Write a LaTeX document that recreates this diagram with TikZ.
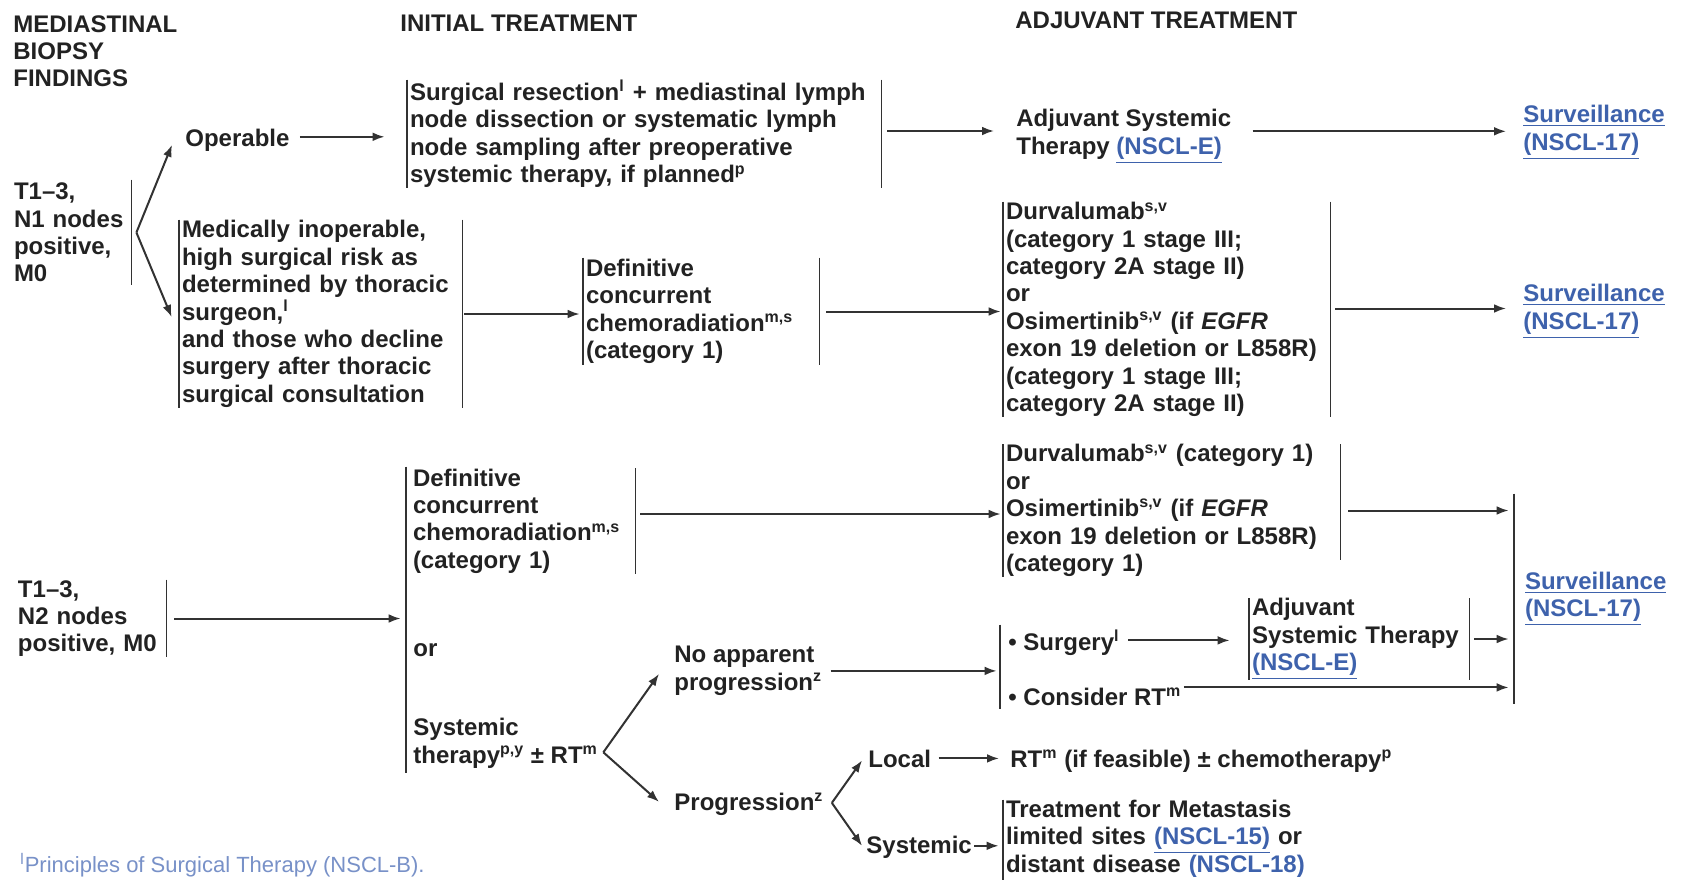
\documentclass[tikz,border=0pt]{standalone}
\usepackage{fontspec}
\setmainfont{Liberation Sans}
\usetikzlibrary{arrows.meta,calc}
\definecolor{txt}{RGB}{34,34,34}
\definecolor{linec}{RGB}{50,50,50}
\definecolor{lnkc}{RGB}{62,98,172}
\definecolor{fnc}{RGB}{120,145,200}
\newcommand\spx[1]{\textsuperscript{#1}}
\newcommand\lnk[1]{\textcolor{lnkc}{\underline{#1}}}
\tikzset{
  vbar/.style={draw=linec, line width=0.9pt},
  brk/.style={align=left, inner xsep=1.5pt, inner ysep=0pt,
    append after command={(\tikzlastnode.north west) edge[vbar] (\tikzlastnode.south west)
      (\tikzlastnode.north east) edge[vbar] (\tikzlastnode.south east)}},
  lbrk/.style={align=left, inner xsep=1.5pt, inner ysep=0pt,
    append after command={(\tikzlastnode.north west) edge[vbar] (\tikzlastnode.south west)}},
  rbrk/.style={align=left, inner xsep=1.5pt, inner ysep=0pt,
    append after command={(\tikzlastnode.north east) edge[vbar] (\tikzlastnode.south east)}},
  plain/.style={align=left, anchor=north west},
  arr/.style={draw=linec, line width=1pt, -{Latex[length=6pt,width=4.4pt]}}
}
\begin{document}
\begin{tikzpicture}[x=0.5pt,y=-0.5pt,
  every node/.style={font=\fontsize{12pt}{13.7pt}\selectfont\bfseries, text=txt, inner sep=0pt}]
\useasboundingbox (0,0) rectangle (1684,879);
\fill[white] (0,0) rectangle (1684,879);

% headers
\node[plain] (h1) at (13,15) {MEDIASTINAL\\BIOPSY\\FINDINGS};
\node[anchor=base west] (h2) at (400,31) {INITIAL TREATMENT};
\node[anchor=base west] (h3) at (1015,28) {ADJUVANT TREATMENT};

% N1 row
\node[rbrk, text width=57pt, minimum height=52.5pt] (n1) at (71,232.5) {T1–3,\\N1 nodes\\positive,\\M0};
\node[anchor=base west] (oper) at (185,146) {Operable};
\node[brk, text width=234pt, minimum height=54pt] (surg) at (644,134)
  {Surgical resection\spx{l} + mediastinal lymph\\node dissection or systematic lymph\\node sampling after preoperative\\systemic therapy, if planned\spx{p}};
\node[plain] (adj1) at (1016,109) {Adjuvant Systemic\\Therapy \lnk{(NSCL-E)}};
\node[plain] (surv1) at (1523,105) {\lnk{Surveillance}\\\lnk{(NSCL-17)}};

\node[brk, text width=138.5pt, minimum height=94pt] (med) at (320.5,314)
  {Medically inoperable,\\high surgical risk as\\determined by thoracic\\surgeon,\spx{l}\\and those who decline\\surgery after thoracic\\surgical consultation};
\node[brk, text width=115pt, minimum height=53.5pt] (dcc1) at (701,311.5)
  {Definitive\\concurrent\\chemoradiation\spx{m,s}\\(category 1)};
\node[brk, text width=160.5pt, minimum height=107.5pt] (durv1) at (1166.5,309.5)
  {Durvalumab\spx{s,v}\\(category 1 stage III;\\category 2A stage II)\\or\\Osimertinib\spx{s,v} (if \textit{EGFR}\\exon 19 deletion or L858R)\\(category 1 stage III;\\category 2A stage II)};
\node[plain] (surv2) at (1523,284) {\lnk{Surveillance}\\\lnk{(NSCL-17)}};

% N2 row
\node[rbrk, text width=72.5pt, minimum height=38.5pt] (n2) at (90.5,618.5) {T1–3,\\N2 nodes\\positive, M0};
\node[lbrk, minimum height=153pt] (init2) at (409,620) {};
\node[rbrk, text width=109.5pt, minimum height=48pt] (dcc2) at (522.5,521)
  {Definitive\\concurrent\\chemoradiation\spx{m,s}\\(category 1)};
\node[anchor=base west] (or2) at (413,656) {or};
\node[plain] (sys2) at (413,718) {Systemic\\therapy\spx{p,y} ± RT\spx{m}};
\node[lbrk, text width=165.5pt, minimum height=64.5pt] (durv2) at (1171.5,510.5)
  {Durvalumab\spx{s,v} (category 1)\\or\\Osimertinib\spx{s,v} (if \textit{EGFR}\\exon 19 deletion or L858R)\\(category 1)};
\draw[vbar] (durv2.north east) -- ($(durv2.south east)+(0,-17)$);
\node[lbrk, inner xsep=5.5pt, text width=73pt, minimum height=105pt] (surv3) at (1598,599)
  {\lnk{Surveillance}\\\lnk{(NSCL-17)}};
\node[plain] (noprog) at (674,646) {No apparent\\progression\spx{z}};
\node[lbrk, minimum height=42pt] (sc) at (1003,667) {};
\node[anchor=base west] (surgery) at (1008,650) {• Surgery\spx{l}};
\node[anchor=base west] (cons) at (1008,705) {• Consider RT\spx{m}};
\node[brk, text width=107pt, minimum height=38pt] (adj2) at (1359,639)
  {Adjuvant\\Systemic Therapy\\\lnk{(NSCL-E)}};
\node[anchor=base west] (prog) at (674,810) {Progression\spx{z}};
\node[anchor=base west] (local) at (868,767) {Local};
\node[anchor=base west] (rtf) at (1010,767) {RT\spx{m} (if feasible) ± chemotherapy\spx{p}};
\node[anchor=base west] (systemic) at (866,853) {Systemic};
\node[lbrk, text width=150.5pt, minimum height=40.5pt] (tfm) at (1156.5,840.5)
  {Treatment for Metastasis\\limited sites \lnk{(NSCL-15)} or\\distant disease \lnk{(NSCL-18)}};
\node[anchor=base west, font=\fontsize{11pt}{13pt}\selectfont, text=fnc] (fn) at (20,872)
  {\spx{l}Principles of Surgical Therapy (NSCL-B).};

% connectors
\draw[arr] ($(n1.east)+(5,0)$) -- ($(oper.west)+(-13,5)$);
\draw[arr] ($(n1.east)+(5,0)$) -- ($(med.west)+(-7,3)$);
\draw[arr] ($(oper.east)+(10,-3)$) -- ($(oper.east -| surg.west)+(-22,-3)$);
\draw[arr] ($(surg.east)+(6,-3)$) -- ($(surg.east -| adj1.west)+(-22,-3)$);
\draw[arr] ($(adj1.east)+(21,-5)$) -- ($(adj1.east -| surv1.west)+(-17,-5)$);
\draw[arr] ($(med.east)+(2,0)$) -- ($(med.east -| dcc1.west)+(-3,0)$);
\draw[arr] ($(dcc1.east)+(7,0)$) -- ($(dcc1.east -| durv1.west)+(-2,0)$);
\draw[arr] ($(durv1.east)+(5,-1)$) -- ($(durv1.east -| surv2.west)+(-17,-1)$);

\draw[arr] ($(n2.east)+(8,0)$) -- ($(n2.east -| init2.west)+(-5,0)$);
\draw[arr] ($(dcc2.east)+(5,-7)$) -- ($(dcc2.east -| durv2.west)+(-2,-7)$);
\draw[arr] ($(durv2.east)+(8,0)$) -- ($(durv2.east -| surv3.west)+(-5,0)$);
\draw[arr] ($(sys2.east)+(5,9)$) -- ($(noprog.west)+(-15,3)$);
\draw[arr] ($(sys2.east)+(5,9)$) -- ($(prog.west)+(-15,-2)$);
\draw[arr] ($(noprog.east)+(8,0)$) -- ($(noprog.east -| sc.west)+(-3,0)$);
\draw[arr] ($(surgery.east)+(8,-2)$) -- ($(surgery.east -| adj2.west)+(-19,-2)$);
\draw[arr] ($(adj2.east)+(5,0)$) -- ($(adj2.east -| surv3.west)+(-5,0)$);
\draw[arr] ($(cons.east)+(2,-9)$) -- ($(cons.east -| surv3.west)+(-5,-9)$);
\draw[arr] ($(prog.east)+(8,-1)$) -- ($(local.west)+(-6,2)$);
\draw[arr] ($(prog.east)+(8,-1)$) -- ($(systemic.west)+(-4,-1)$);
\draw[arr] ($(local.east)+(7,0)$) -- ($(local.east -| rtf.west)+(-11,0)$);
\draw[arr] ($(systemic.east)+(2,-1)$) -- ($(systemic.east -| tfm.west)+(-4,-1)$);
\end{tikzpicture}
\end{document}
